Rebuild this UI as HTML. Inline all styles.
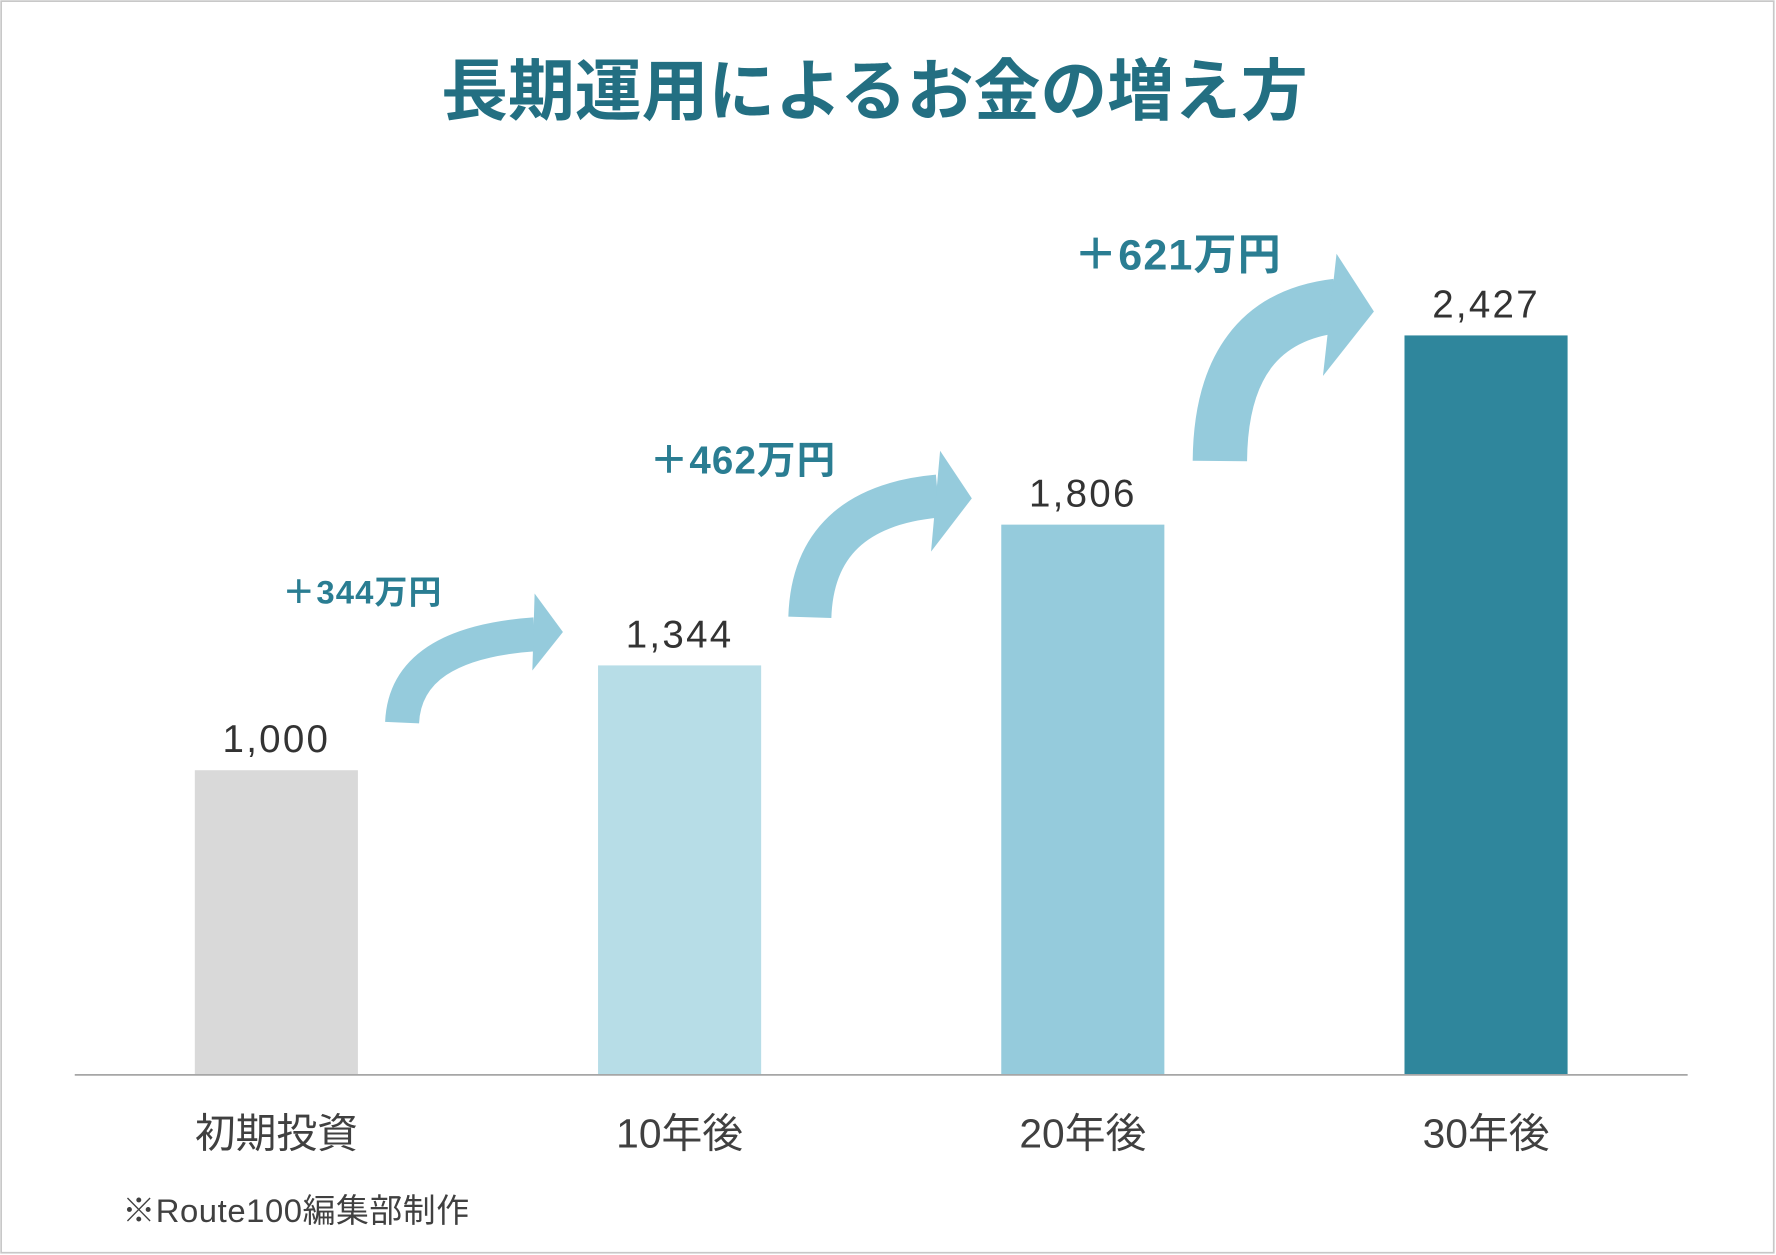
<!DOCTYPE html>
<html><head><meta charset="utf-8"><style>
html,body{margin:0;padding:0;background:#fff}
svg{display:block}
text{font-family:"Liberation Sans","Noto Sans CJK JP",sans-serif}
</style></head><body>
<svg id="chart" width="1776" height="1255" viewBox="0 0 1568 1108" xmlns="http://www.w3.org/2000/svg">
<rect x="1" y="1" width="1565" height="1105" fill="#fff" stroke="#c8c8c8" stroke-width="1.5"/>
<text x="772" y="101" text-anchor="middle" font-size="59" font-weight="bold" fill="#236f82">長期運用によるお金の増え方</text>
<g id="bars"></g>
<line x1="66" y1="949" x2="1490" y2="949" stroke="#a6a6a6" stroke-width="1.5"/>
<g id="arrows"></g>
<text x="108" y="1079" font-size="29" fill="#404040" letter-spacing="0.5">※Route100編集部制作</text>
</svg>
<script>
const categories=["初期投資","10年後","20年後","30年後"];
const values=[1000,1344,1806,2427];
const valueLabels=["1,000","1,344","1,806","2,427"];
const gainLabels=["＋344万円","＋462万円","＋621万円"];
const colors=["#d9d9d9","#b7dde7","#95cbdc","#2f869c"];
const NS="http://www.w3.org/2000/svg";
const base=949, scale=0.269;
const yOf=v=>base-v*scale;
const xOf=i=>172+i*356;
const bw=144;
const bars=document.getElementById('bars');
function mk(tag,attrs,parent){const e=document.createElementNS(NS,tag);for(const k in attrs)e.setAttribute(k,attrs[k]);parent.appendChild(e);return e;}
values.forEach((v,i)=>{
  const r=mk('rect',{x:xOf(i),y:yOf(v),width:bw,height:base-yOf(v),fill:colors[i]},bars);
  
  
  const t=mk('text',{x:xOf(i)+bw/2,y:yOf(v)-16,'text-anchor':'middle','font-size':34,'letter-spacing':2,fill:'#333'},bars);
  t.textContent=valueLabels[i];
  
  
  const c=mk('text',{x:xOf(i)+bw/2,y:1013,'text-anchor':'middle','font-size':36,fill:'#404040'},bars);
  c.textContent=categories[i];
  
  
});
const arrows=document.getElementById('arrows');
const arrowDefs=[
 {tail:[355,638],ctrl:[358,568],end:[472,560],head:[[472,524],[497,558],[470,592]],w:30,lx:320,ly:533,fs:29},
 {tail:[715,545],ctrl:[718,448],end:[828,438],head:[[830,398],[858,440],[822,487]],w:38,lx:656,ly:418,fs:34},
 {tail:[1077,407],ctrl:[1078,282],end:[1180,270],head:[[1180,224],[1213,275],[1168,332]],w:48,lx:1040,ly:238,fs:38}
];
arrowDefs.forEach((a,i)=>{
  const p=mk('path',{d:`M${a.tail[0]},${a.tail[1]} Q${a.ctrl[0]},${a.ctrl[1]} ${a.end[0]},${a.end[1]}`,fill:'none',stroke:'#95cbdc','stroke-width':a.w},arrows);
  
  
  const h=mk('polygon',{points:a.head.map(q=>q.join(',')).join(' '),fill:'#95cbdc'},arrows);
  
  
  const t=mk('text',{x:a.lx,y:a.ly,'text-anchor':'middle','font-size':a.fs,'font-weight':'bold','letter-spacing':1,fill:'#2a7d92'},arrows);
  t.textContent=gainLabels[i];
  
  
});
</script>
</body></html>
